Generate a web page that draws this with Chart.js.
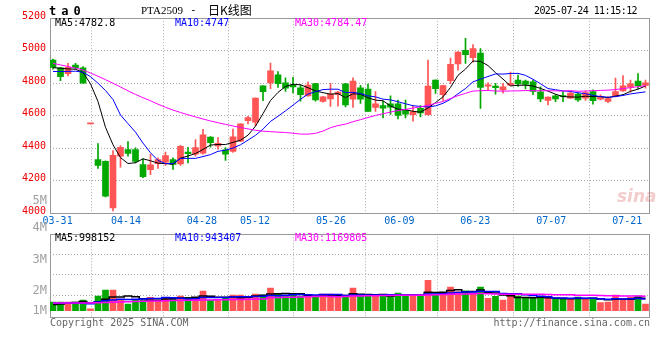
<!DOCTYPE html>
<html><head><meta charset="utf-8">
<script src="https://cdn.jsdelivr.net/npm/chart.js@4.4.1/dist/chart.umd.min.js"></script>
<style>
html,body{margin:0;padding:0;background:#fff;}
#wrap{position:relative;width:660px;height:360px;overflow:hidden;background:#fff;}
canvas{position:absolute;left:0;top:0;}
.t{position:absolute;white-space:pre;font-family:"DejaVu Sans Mono",monospace;font-size:10px;line-height:12px;}
</style></head><body>
<div id="wrap">
<canvas id="main" width="660" height="360"></canvas>
<canvas id="vol" width="660" height="360"></canvas>
<div class="t" style="left:49px;top:4px;font-size:12px;line-height:14px;letter-spacing:-1.1px;font-weight:bold;color:#000">t a 0</div>
<div class="t" style="left:141px;top:4px;font-family:'Liberation Serif',serif;font-size:11px;color:#000">PTA2509</div>
<div class="t" style="left:190px;top:4px;font-size:11px;color:#000">-</div>
<div class="t" style="left:208px;top:3px;font-family:'Noto Sans CJK SC',sans-serif;font-size:12px;line-height:14px;color:#000">日K线图</div>
<div class="t" style="left:534px;top:5px;letter-spacing:-0.6px;color:#000">2025-07-24 11:15:12</div>
<div class="t" style="left:55px;top:17px;color:#000">MA5:4782.8</div>
<div class="t" style="left:175px;top:17px;color:#0000ff">MA10:4747</div>
<div class="t" style="left:295px;top:17px;color:#ff00ff">MA30:4784.47</div>
<div class="t" style="left:55px;top:232px;color:#000">MA5:998152</div>
<div class="t" style="left:175px;top:232px;color:#0000ff">MA10:943407</div>
<div class="t" style="left:295px;top:232px;color:#ff00ff">MA30:1169805</div>
<div class="t" style="left:50px;top:317px;color:#666">Copyright 2025 SINA.COM</div>
<div class="t" style="right:10px;top:317px;color:#666">http://finance.sina.com.cn</div>
<div class="t" style="left:617px;top:186px;font-family:'DejaVu Sans',sans-serif;font-size:17px;line-height:20px;font-style:italic;font-weight:bold;color:rgba(220,110,110,0.35)">sina</div>
</div>
<script>
// ---- data ----
const dates = ['03-28','03-31','04-01','04-02','04-03','04-07','04-08','04-09','04-10','04-11',
'04-14','04-15','04-16','04-17','04-18','04-21','04-22','04-23','04-24','04-25',
'04-28','04-29','04-30','05-06','05-07','05-08','05-09','05-12','05-13','05-14',
'05-15','05-16','05-19','05-20','05-21','05-22','05-23','05-26','05-27','05-28',
'05-29','05-30','06-03','06-04','06-05','06-06','06-09','06-10','06-11','06-12',
'06-13','06-16','06-17','06-18','06-19','06-20','06-23','06-24','06-25','06-26',
'06-27','06-30','07-01','07-02','07-03','07-04','07-07','07-08','07-09','07-10',
'07-11','07-14','07-15','07-16','07-17','07-18','07-21','07-22','07-23','07-24'];
const opens = [4943,4894,4859,4912,4894,4550,4331,4319,4033,4351,
4392,4392,4300,4268,4306,4315,4331,4304,4376,4364,
4370,4469,4414,4390,4380,4444,4570,4560,4784,4802,
4851,4802,4788,4771,4722,4798,4688,4704,4731,4797,
4702,4771,4764,4651,4662,4673,4673,4633,4606,4645,
4606,4819,4730,4816,4919,5003,4957,4985,4782,4782,
4759,4788,4820,4814,4808,4747,4694,4722,4724,4708,
4733,4708,4749,4702,4688,4718,4753,4776,4814,4786];
const highs = [4949,4898,4922,4922,4902,4550,4429,4322,4386,4416,
4441,4402,4335,4362,4341,4376,4341,4418,4406,4453,
4517,4472,4465,4404,4518,4551,4596,4710,4786,4924,
4872,4834,4836,4790,4808,4800,4720,4800,4750,4800,
4834,4787,4795,4748,4690,4722,4696,4696,4661,4663,
4942,4821,4789,4955,4994,5076,5038,5013,4803,4800,
4800,4868,4850,4820,4819,4778,4716,4730,4748,4749,
4739,4753,4759,4729,4718,4831,4847,4820,4860,4820];
const lows = [4886,4816,4845,4886,4800,4550,4276,4100,4015,4284,
4351,4310,4219,4237,4276,4294,4270,4294,4310,4351,
4364,4406,4394,4325,4374,4440,4549,4537,4692,4767,
4775,4749,4740,4690,4720,4690,4684,4658,4659,4655,
4651,4676,4626,4626,4586,4608,4580,4586,4566,4593,
4603,4738,4695,4797,4880,4922,4930,4645,4758,4733,
4739,4786,4780,4765,4730,4686,4666,4687,4687,4706,
4688,4694,4671,4697,4680,4716,4749,4745,4765,4770];
const closes = [4898,4841,4898,4894,4800,4550,4294,4106,4357,4406,
4368,4319,4225,4298,4331,4355,4300,4412,4366,4404,
4482,4435,4430,4364,4470,4550,4588,4708,4748,4876,
4798,4770,4778,4729,4788,4698,4716,4734,4745,4667,
4813,4702,4626,4673,4647,4653,4602,4610,4626,4618,
4783,4767,4786,4917,4991,4975,5013,4775,4790,4773,
4778,4800,4796,4792,4749,4704,4715,4703,4718,4739,
4698,4743,4692,4717,4706,4748,4784,4796,4784,4802];
const volumes = [700000,700000,700000,700000,860000,160000,1180000,1670000,1670000,860000,
540000,860000,860000,1080000,860000,1020000,1020000,1180000,1080000,1080000,
1590000,860000,860000,1000000,1260000,1260000,1080000,1340000,1260000,1830000,
1340000,1180000,1260000,1180000,1180000,1080000,1340000,1340000,1240000,1080000,
1830000,1180000,1180000,1180000,1180000,1240000,1420000,1180000,1180000,1180000,
2450000,1340000,1240000,1900000,1530000,1610000,1420000,1910000,1000000,1150000,
850000,1150000,1180000,1000000,1050000,1000000,1000000,950000,950000,950000,
1090000,970000,1020000,650000,700000,1260000,940000,1080000,1180000,540000];
// moving-average values before enough bars exist
const ma5Lead = [4896,4892,4888,4886];
const ma10Lead = [4872,4872,4873,4874,4868,4840,4800,4755,4700];
const ma30Lead = [4922,4913,4903,4893,4881,4863,4843,4822,4800,4777,4753,4731,4711,4692,4671,4652,4635,4620,4606,4593,4580,4568,4557,4547,4537,4528,4519,4511,4505];
const vma5Lead = [510000,550000,600000,660000];
const vma10Lead = [600000,600000,600000,600000,600000,560000,700000,800000,860000];
const vma30Lead = [620000,620000,620000,620000,620000,620000,640000,660000,680000,700000,720000,740000,760000,780000,790000,800000,820000,830000,840000,850000,860000,870000,880000,890000,900000,910000,920000,930000,940000];
// date tick labels and the bar index each one belongs to
const dateLabels = ['03-31','04-14','04-28','05-12','05-26','06-09','06-23','07-07','07-21'];
const dateIdx = dateLabels.map(d => dates.indexOf(d));
const priceTicks = [4000,4200,4400,4600,4800,5000,5200];
const volTickLabels = ['5M','4M','3M','2M','1M'];

// ---- helpers ----
const RED = '#ff5555', GREEN = '#00a800';
const idx = closes.map((_, i) => i);
const isUp = i => closes[i] >= opens[i];
const barColors = idx.map(i => isUp(i) ? RED : GREEN);
function movingAvg(src, n, lead) {
  return src.map((_, i) => {
    if (i < n - 1) return lead[i];
    let s = 0;
    for (let k = i - n + 1; k <= i; k++) s += src[k];
    return s / n;
  });
}
const ma5 = movingAvg(closes, 5, ma5Lead), ma10 = movingAvg(closes, 10, ma10Lead), ma30 = movingAvg(closes, 30, ma30Lead);
const vma5 = movingAvg(volumes, 5, vma5Lead), vma10 = movingAvg(volumes, 10, vma10Lead), vma30 = movingAvg(volumes, 30, vma30Lead);
const pts = arr => arr.map((v, i) => ({x: i, y: v}));

const MONO = "'DejaVu Sans Mono', monospace";
const GRIDC = '#a8a8a8';
const frame = {
  id: 'frame',
  beforeDatasetsDraw(c) {
    const a = c.chartArea, ctx = c.ctx;
    ctx.save();
    ctx.strokeStyle = '#999';
    ctx.lineWidth = 1;
    ctx.setLineDash([]);
    const l = Math.round(a.left) + 0.5, t = Math.round(a.top) + 0.5;
    ctx.strokeRect(l, t, Math.round(a.right) - Math.round(a.left) - 1, Math.round(a.bottom) - Math.round(a.top));
    ctx.restore();
  }
};
const gridAxisX = (h, showLabels) => ({
  type: 'linear', position: 'bottom', min: 0, max: closes.length - 1, offset: false,
  afterBuildTicks: s => { s.ticks = dateIdx.map(v => ({value: v})); },
  afterFit: s => { s.height = h; },
  ticks: {display: showLabels, autoSkip: false, maxRotation: 0, padding: 2, color: '#0066cc',
    font: {family: MONO, size: 10}, callback: v => dateLabels[dateIdx.indexOf(v)]},
  grid: {color: GRIDC, drawTicks: false, lineWidth: 1},
  border: {display: false, dash: [1, 2]}
});
const dataAxisX = {type: 'linear', min: -0.4, max: closes.length - 0.4, display: false, offset: false};
const common = {
  responsive: false, animation: false, devicePixelRatio: 1,
  plugins: {legend: {display: false}, tooltip: {enabled: false}},
};
const lineDs = (data, color, w, stepped, yid) => ({
  type: 'line', data: pts(data), borderColor: color, borderWidth: w, pointRadius: 0,
  tension: 0, stepped: stepped, fill: false, order: 0, xAxisID: 'x', yAxisID: yid
});

// ---- price chart ----
new Chart(document.getElementById('main'), {
  type: 'bar',
  data: {datasets: [
    {type: 'bar', data: idx.map(i => ({x: i, y: [lows[i], highs[i]]})), backgroundColor: barColors,
     barThickness: 1, grouped: false, order: 3, xAxisID: 'x', yAxisID: 'y'},
    {type: 'bar', data: idx.map(i => ({x: i, y: [opens[i], closes[i]]})), backgroundColor: barColors,
     barThickness: 6, minBarLength: 1, grouped: false, order: 2, xAxisID: 'x', yAxisID: 'y'},
    lineDs(ma30, '#ff00ff', 1, false, 'y'),
    lineDs(ma10, '#0000ff', 1, false, 'y'),
    lineDs(ma5, '#000000', 1, false, 'y')
  ]},
  options: Object.assign({}, common, {
    layout: {padding: {top: 18.2, right: 10, left: 0, bottom: 0}},
    scales: {
      x: dataAxisX,
      xg: gridAxisX(360 - 213.3, true),
      y: {type: 'linear', position: 'left', min: priceTicks[0], max: priceTicks[priceTicks.length - 1],
        afterBuildTicks: s => { s.ticks = priceTicks.map(v => ({value: v})); },
        afterFit: s => { s.width = 50; },
        ticks: {padding: 4, color: '#ee0000', labelOffset: -2, font: {family: MONO, size: 10},
          callback: v => String(v)},
        grid: {color: GRIDC, drawTicks: false},
        border: {display: false, dash: [1, 2]}}
    }
  }),
  plugins: [frame]
});

// ---- volume chart ----
const volLabelPlugin = {
  id: 'volLabels',
  afterDraw(c) {
    const ctx = c.ctx;
    const ys = [200.5, 228, 260, 291, 310.5];
    ctx.save();
    ctx.fillStyle = '#a0a0a0';
    ctx.font = "12px " + MONO;
    ctx.textAlign = 'right';
    ctx.textBaseline = 'middle';
    volTickLabels.forEach((t, k) => ctx.fillText(t, 47, ys[k]));
    ctx.restore();
  }
};
const pxPerUnit = 12.4 / 1e6;
new Chart(document.getElementById('vol'), {
  type: 'bar',
  data: {datasets: [
    {type: 'bar', data: idx.map(i => ({x: i, y: volumes[i]})), backgroundColor: barColors,
     barThickness: 6, grouped: false, order: 2, xAxisID: 'x', yAxisID: 'y'},
    lineDs(vma30, '#ff00ff', 1.5, 'middle', 'y'),
    lineDs(vma10, '#0000ff', 1.5, 'middle', 'y'),
    lineDs(vma5, '#000000', 1.5, 'middle', 'y')
  ]},
  options: Object.assign({}, common, {
    layout: {padding: {top: 234.3, right: 10, left: 0, bottom: 0}},
    scales: {
      x: dataAxisX,
      xg: gridAxisX(360 - 317.3, false),
      y: {type: 'linear', display: false, min: -(317.3 - 310.7) / pxPerUnit, max: (310.7 - 234.3) / pxPerUnit},
      yg: {type: 'linear', position: 'left', min: -0.08, max: 4,
        afterBuildTicks: s => { s.ticks = [1, 2, 3, 4].map(v => ({value: v})); },
        afterFit: s => { s.width = 50; },
        ticks: {display: false},
        grid: {color: GRIDC, drawTicks: false},
        border: {display: false, dash: [1, 2]}}
    }
  }),
  plugins: [frame, volLabelPlugin]
});
</script>
</body></html>
